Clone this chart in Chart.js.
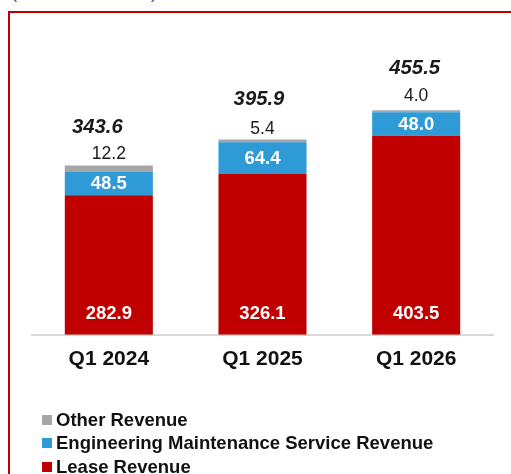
<!DOCTYPE html>
<html>
<head>
<meta charset="utf-8">
<script src="https://cdn.jsdelivr.net/npm/chart.js@4.4.1/dist/chart.umd.min.js"></script>
<style>
html,body{margin:0;padding:0;background:#fff;width:511px;height:474px;overflow:hidden;position:relative;font-family:"Liberation Sans",Arial,sans-serif;}
#frame{position:absolute;left:8px;top:11px;width:600px;height:600px;border-left:2px solid #C00000;border-top:2px solid #C00000;box-sizing:border-box;}
#unit{position:absolute;left:11px;top:-17px;width:146px;height:18px;line-height:18px;font-size:18px;color:#555;display:flex;justify-content:space-between;}
#wrap{position:absolute;left:0;top:0;width:511px;height:474px;}
#legend{position:absolute;left:42px;top:0;width:460px;height:474px;}
.row{position:absolute;left:0;height:20px;line-height:20px;display:flex;align-items:center;font-size:18.5px;font-weight:bold;color:#111;white-space:nowrap;}
.sw{width:10px;height:10px;margin-right:4px;flex:none;display:block;}
</style>
</head>
<body>
<div id="unit"><span>(</span><span>in millions</span><span>)</span></div>
<div id="frame"></div>
<div id="wrap"><canvas id="c" width="511" height="474"></canvas></div>
<div id="legend"></div>
<script>
// ---- data ----
const categories = ['Q1 2024', 'Q1 2025', 'Q1 2026'];
const leaseRevenue = [282.9, 326.1, 403.5];
const engineeringRevenue = [48.5, 64.4, 48.0];
const otherRevenue = [12.2, 5.4, 4.0];
const totalRevenue = [343.6, 395.9, 455.5];
const seriesNames = ['Lease Revenue', 'Engineering Maintenance Service Revenue', 'Other Revenue'];

const FONT = '"Liberation Sans", Arial, sans-serif';
const colors = ['#C00000', '#2E9AD6', '#A6A6A6'];

const labelPlugin = {
  id: 'barLabels',
  afterDatasetsDraw(chart, args, opts) {
    const ctx = chart.ctx;
    ctx.save();
    ctx.textAlign = 'center';
    ctx.textBaseline = 'middle';
    const mLease = chart.getDatasetMeta(0);
    const mEng = chart.getDatasetMeta(1);
    const mOther = chart.getDatasetMeta(2);
    mLease.data.forEach((bar, i) => {
      ctx.font = 'bold 18.5px ' + FONT;
      ctx.fillStyle = '#ffffff';
      ctx.fillText(leaseRevenue[i].toFixed(1), bar.x, bar.base - opts.leaseFromBase);
    });
    mEng.data.forEach((bar, i) => {
      ctx.font = 'bold 18.5px ' + FONT;
      ctx.fillStyle = '#ffffff';
      ctx.fillText(engineeringRevenue[i].toFixed(1), bar.x, (bar.y + bar.base) / 2 + 1);
    });
    mOther.data.forEach((bar, i) => {
      ctx.font = '17.5px ' + FONT;
      ctx.fillStyle = '#1a1a1a';
      ctx.fillText(otherRevenue[i].toFixed(1), bar.x, bar.y - opts.otherDy[i]);
      ctx.font = 'italic bold 20.3px ' + FONT;
      ctx.fillStyle = '#1a1a1a';
      ctx.fillText(totalRevenue[i].toFixed(1), bar.x + opts.totalDx[i], bar.y - opts.totalDy[i]);
    });
    ctx.restore();
  }
};

const datasets = [
  { label: seriesNames[0], data: leaseRevenue, backgroundColor: colors[0] },
  { label: seriesNames[1], data: engineeringRevenue, backgroundColor: colors[1] },
  { label: seriesNames[2], data: otherRevenue, backgroundColor: colors[2] }
];

const chart = new Chart(document.getElementById('c'), {
  type: 'bar',
  data: { labels: categories, datasets: datasets },
  options: {
    responsive: false,
    animation: false,
    devicePixelRatio: 1,
    datasets: { bar: { barPercentage: 0.573, categoryPercentage: 1.0, borderWidth: 0 } },
    layout: { padding: { top: 39, left: 32, right: 18, bottom: 90 } },
    plugins: {
      legend: { display: false },
      tooltip: { enabled: false },
      barLabels: {
        leaseFromBase: 21,
        otherDy: [11.5, 10.5, 14.5],
        totalDy: [37.5, 40.5, 42.2],
        totalDx: [-11.5, -3.5, -1.5]
      }
    },
    scales: {
      x: {
        stacked: true,
        grid: { display: false, drawTicks: false },
        border: { display: true, color: '#D9D9D9', width: 2 },
        ticks: { color: '#111', padding: 12, font: { family: FONT, size: 21, weight: 'bold' } }
      },
      y: { stacked: true, display: false, min: 0, max: 600 }
    }
  },
  plugins: [labelPlugin]
});

// legend built from chart datasets (reverse order)
const legendEl = document.getElementById('legend');
const centers = [419.5, 443, 466.5];
chart.data.datasets.slice().reverse().forEach((ds, k) => {
  const row = document.createElement('div');
  row.className = 'row';
  row.style.top = (centers[k] - 10) + 'px';
  const sw = document.createElement('span');
  sw.className = 'sw';
  sw.style.background = ds.backgroundColor;
  const tx = document.createElement('span');
  tx.textContent = ds.label;
  row.appendChild(sw);
  row.appendChild(tx);
  legendEl.appendChild(row);
});
</script>
</body>
</html>
